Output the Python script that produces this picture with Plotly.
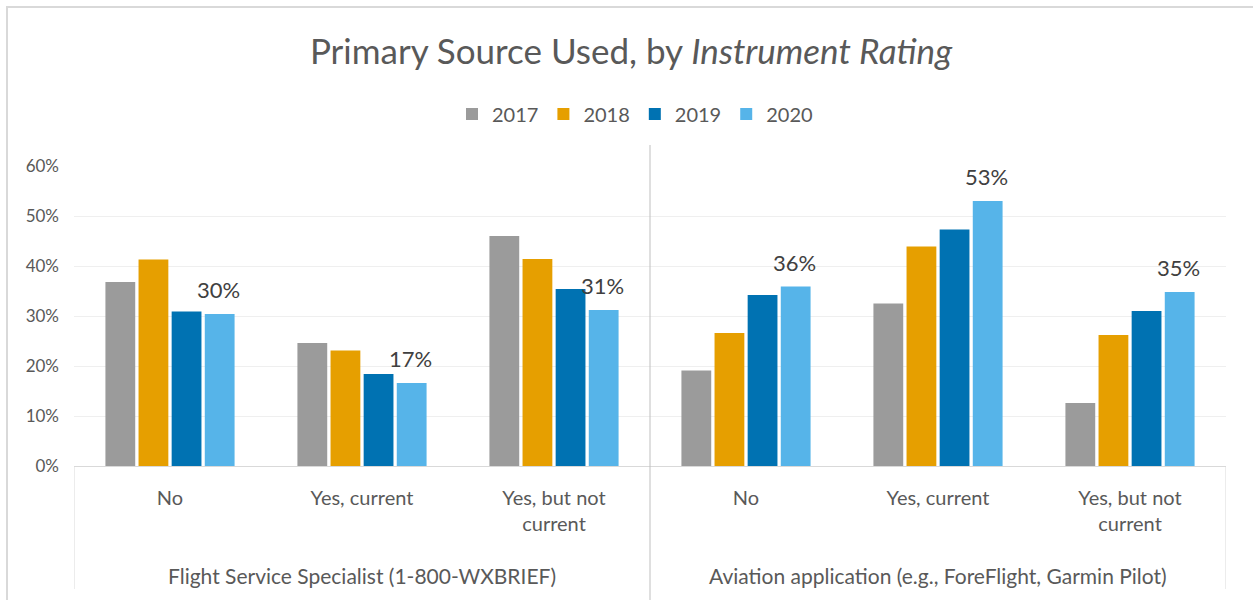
import plotly.graph_objects as go

# data (shares of respondents)
categories = ["No", "Yes, current", "Yes, but not<br>current",
              "No", "Yes, current", "Yes, but not<br>current"]
groups = ["Flight Service Specialist (1-800-WXBRIEF)",
          "Aviation application (e.g., ForeFlight, Garmin Pilot)"]
years = ["2017", "2018", "2019", "2020"]
v2017 = [0.368, 0.246, 0.460, 0.191, 0.325, 0.126]
v2018 = [0.413, 0.231, 0.414, 0.266, 0.439, 0.262]
v2019 = [0.309, 0.184, 0.354, 0.342, 0.473, 0.310]
v2020 = [0.304, 0.166, 0.312, 0.359, 0.530, 0.348]
y_ticks = [0, 0.1, 0.2, 0.3, 0.4, 0.5, 0.6]

colors = ["#9B9B9B", "#E69F00", "#0072B2", "#56B4E9"]
FONT = "Lato, 'Open Sans', sans-serif"
GRAY = "#595959"
LINE = "#D9D9D9"

x = list(range(len(categories)))
fig = go.Figure()
for i, (name, vals) in enumerate(zip(years, [v2017, v2018, v2019, v2020])):
    fig.add_trace(go.Bar(
        name=name,
        x=x,
        y=vals,
        marker=dict(color=colors[i], line=dict(width=0)),
        hoverinfo="skip",
    ))

# plot area spans pixels 74..1226 horizontally and 166..466 vertically
def px_x(p):
    return (p - 74) / 1152

def px_y(p):
    return (466 - p) / 300

shapes = [
    # outer chart border (left and top visible)
    dict(type="rect", xref="paper", yref="paper",
         x0=px_x(7), x1=px_x(1262), y0=px_y(612), y1=px_y(7),
         line=dict(color=LINE, width=2), layer="below"),
    # divider between the two sources
    dict(type="line", xref="x", yref="paper", x0=2.5, x1=2.5,
         y0=px_y(602), y1=px_y(145), line=dict(color="#BFBFBF", width=1)),
    dict(type="line", xref="x", yref="paper", x0=-0.5, x1=-0.5,
         y0=px_y(589), y1=0, line=dict(color=LINE, width=1)),
    dict(type="line", xref="x", yref="paper", x0=5.5, x1=5.5,
         y0=px_y(589), y1=0, line=dict(color=LINE, width=1)),
]

annotations = [
    dict(text=g, x=xc, xref="x", y=px_y(575), yref="paper",
         showarrow=False, xanchor="center", yanchor="middle",
         font=dict(size=21, color=GRAY, family=FONT))
    for g, xc in zip(groups, [1, 4])
]
# value labels on the 2020 bars only (4th bar of each group, ~50px right of centre)
for xi, v in zip(x, v2020):
    annotations.append(dict(
        text=f"{v:.0%}", x=xi, y=v, xref="x", yref="y",
        xshift=48, yshift=9, showarrow=False,
        xanchor="center", yanchor="bottom",
        font=dict(size=22, color="#404040", family=FONT)))

fig.update_layout(
    width=1253, height=600,
    paper_bgcolor="white", plot_bgcolor="white",
    margin=dict(l=74, r=27, t=166, b=134),
    title=dict(text="Primary Source Used, by <i>Instrument Rating</i>",
               x=px_x(631), xref="paper", xanchor="center",
               y=1 - 52 / 600, yanchor="middle",
               font=dict(size=35, color=GRAY, family=FONT)),
    legend=dict(orientation="h", x=px_x(635), xanchor="center",
                y=px_y(114), yanchor="middle",
                font=dict(size=20, color=GRAY, family=FONT),
                traceorder="normal", itemwidth=30),
    barmode="group", bargap=0.31, bargroupgap=0.1,
    xaxis=dict(tickvals=x, ticktext=categories, range=[-0.5, 5.5],
               showgrid=False, showline=True, linecolor=LINE, linewidth=1,
               ticks="", ticklabelstandoff=14,
               tickfont=dict(size=20, color=GRAY, family=FONT)),
    yaxis=dict(range=[0, 0.6], tickvals=y_ticks, tickformat=".0%",
               showgrid=True, gridcolor="#EFEFEF", gridwidth=1,
               zeroline=False, ticks="", ticklabelstandoff=14,
               tickfont=dict(size=17, color=GRAY, family=FONT)),
    shapes=shapes,
    annotations=annotations,
    font=dict(family=FONT, color=GRAY),
)

# drop the page's default body margin so the chart sits at the window origin
fig.write_html("out.html", config={"displayModeBar": False},
               post_script="document.body.style.margin='0';")
